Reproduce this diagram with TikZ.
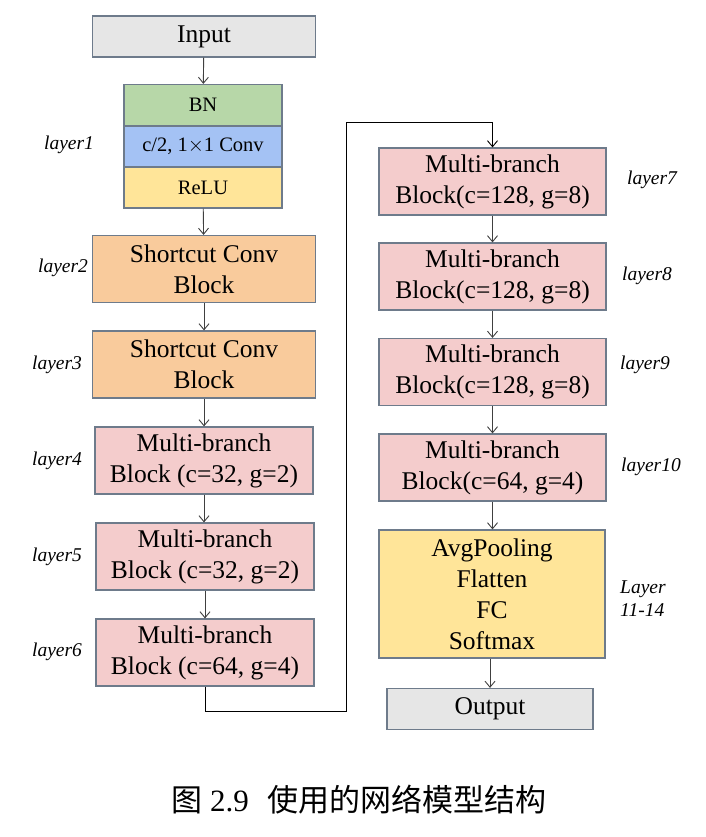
\documentclass[tikz,border=0pt]{standalone}
\usepackage{fontspec}
\setmainfont{Liberation Serif}
\newfontfamily\cjk{Noto Sans CJK SC}
\usetikzlibrary{arrows.meta}
\definecolor{boxline}{HTML}{6E7B8B}
\definecolor{greybox}{HTML}{E6E6E6}
\definecolor{bngreen}{HTML}{B7D7A8}
\definecolor{convblue}{HTML}{A4C2F4}
\definecolor{reluyellow}{HTML}{FFE599}
\definecolor{scorange}{HTML}{F9CB9C}
\definecolor{mbpink}{HTML}{F4CCCC}
\definecolor{arrowgrey}{HTML}{404040}
\begin{document}
\begin{tikzpicture}
[x=1pt,y=-1pt,
box/.style={rectangle,draw=boxline,line width=1.2pt,inner sep=0pt,align=center,font=\fontsize{25.5}{31}\selectfont},
iobox/.style={box,fill=greybox,minimum width=223pt,minimum height=41pt},
stackbox/.style={box,minimum width=158pt,minimum height=41pt,font=\fontsize{20.5}{24}\selectfont},
scbox/.style={box,fill=scorange,minimum width=223pt,minimum height=67pt},
mbbox/.style={box,fill=mbpink,minimum width=218pt,minimum height=67pt},
mbwide/.style={mbbox,minimum width=227pt},
headbox/.style={box,fill=reluyellow,minimum width=226pt,minimum height=128pt},
layerlabel/.style={font=\fontsize{19.5}{23}\selectfont\itshape,inner sep=0pt},
arr/.style={draw=arrowgrey,line width=0.9pt,-{Straight Barb[length=6pt,width=10pt]}}]
\useasboundingbox (0,0) rectangle (705,837);
% left column
\node[iobox] (input) at (204,36.5) {Input};
\node[stackbox,fill=bngreen] (bn) at (203,105) {BN};
\node[stackbox,fill=convblue] (conv) at (203,146.5) {c/2, 1$\times$1 Conv};
\node[stackbox,fill=reluyellow] (relu) at (203,187.5) {ReLU};
\node[scbox] (sc1) at (204,269) {Shortcut Conv\\Block};
\node[scbox] (sc2) at (204,364.5) {Shortcut Conv\\Block};
\node[mbbox] (mb4) at (204,460.5) {Multi-branch\\Block (c=32, g=2)};
\node[mbbox] (mb5) at (205,556.5) {Multi-branch\\Block (c=32, g=2)};
\node[mbbox] (mb6) at (205,652.5) {Multi-branch\\Block (c=64, g=4)};
% right column
\node[mbwide] (mb7) at (492.5,181.5) {Multi-branch\\Block(c=128, g=8)};
\node[mbwide] (mb8) at (492.5,276.5) {Multi-branch\\Block(c=128, g=8)};
\node[mbwide] (mb9) at (492.5,372) {Multi-branch\\Block(c=128, g=8)};
\node[mbwide] (mb10) at (492.5,467.5) {Multi-branch\\Block(c=64, g=4)};
\node[headbox] (head) at (492,594) {AvgPooling\\Flatten\\FC\\Softmax};
\node[iobox,minimum width=206pt] (output) at (490,709) {Output};
% layer labels
\node[layerlabel] (l1) at (69,145) {layer1};
\node[layerlabel] (l2) at (63,268) {layer2};
\node[layerlabel] (l3) at (57,365) {layer3};
\node[layerlabel] (l4) at (57,461) {layer4};
\node[layerlabel] (l5) at (57,557) {layer5};
\node[layerlabel] (l6) at (57,652) {layer6};
\node[layerlabel] (l7) at (652,180) {layer7};
\node[layerlabel] (l8) at (647,276) {layer8};
\node[layerlabel] (l9) at (645,365) {layer9};
\node[layerlabel] (l10) at (651,467) {layer10};
\node[layerlabel,align=left,anchor=west] (l11) at (620,599) {Layer\\11-14};
% connectors
\draw[arr] (input) -- (bn);
\draw[arr] (relu) -- (sc1);
\draw[arr] (sc1) -- (sc2);
\draw[arr] (sc2) -- (mb4);
\draw[arr] (mb4.south) -- (mb4.south |- mb5.north);
\draw[arr] (mb5) -- (mb6);
\coordinate (turnA) at (346,711);
\coordinate (turnB) at (346,122);
\draw[arr,draw=black] (mb6.south) |- (turnA) -- (turnB) -| (mb7.north);
\draw[arr] (mb7) -- (mb8);
\draw[arr] (mb8) -- (mb9);
\draw[arr] (mb9) -- (mb10);
\draw[arr] (mb10.south) -- (mb10.south |- head.north);
\draw[arr] (head.south -| output) -- (output);
% caption
\node[font=\fontsize{31}{36}\selectfont] (caption) at (359,800) {{\cjk 图} 2.9\hspace{0.6em}{\cjk 使用的网络模型结构}};
\end{tikzpicture}
\end{document}
